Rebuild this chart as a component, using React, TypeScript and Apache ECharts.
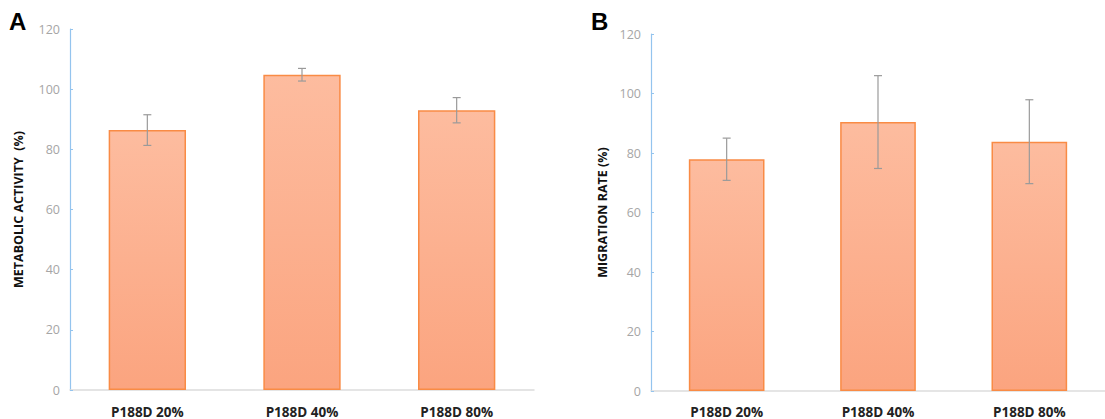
import React, { useEffect, useRef } from "react";
import * as echarts from "echarts";

const categories = ["P188D 20%", "P188D 40%", "P188D 80%"];
const metabolicActivity = [86.4, 104.8, 93.0];
const metabolicErr = [5.1, 2.1, 4.2];
const migrationRate = [77.9, 90.4, 83.8];
const migrationErr = [7.1, 15.6, 14.1];
const yTicks = [0, 20, 40, 60, 80, 100, 120];

const barFill = new echarts.graphic.LinearGradient(0, 0, 0, 1, [
  { offset: 0, color: "#FDBC9F" },
  { offset: 1, color: "#FBA47F" },
]);

function errorData(vals: number[], errs: number[]) {
  return vals.map((v, i) => [i, v - errs[i], v + errs[i]]);
}

function errorRender(params: any, api: any) {
  const i = api.value(0);
  const lo = api.coord([i, api.value(1)]);
  const hi = api.coord([i, api.value(2)]);
  const cap = 4;
  const style = { stroke: "#9a9a9a", lineWidth: 1.2 };
  return {
    type: "group",
    children: [
      { type: "line", shape: { x1: hi[0], y1: hi[1], x2: lo[0], y2: lo[1] }, style },
      { type: "line", shape: { x1: hi[0] - cap, y1: hi[1], x2: hi[0] + cap, y2: hi[1] }, style },
      { type: "line", shape: { x1: lo[0] - cap, y1: lo[1], x2: lo[0] + cap, y2: lo[1] }, style },
    ],
  };
}

export default function App() {
  const ref = useRef<HTMLDivElement>(null);
  useEffect(() => {
    document.body.style.margin = "0";
    const chart = echarts.init(ref.current!, null, { renderer: "svg" });
    const yAxisCommon = (name: string, gap: number, idx: number) => ({
      type: "value",
      gridIndex: idx,
      min: yTicks[0],
      max: yTicks[yTicks.length - 1],
      interval: 20,
      name,
      nameLocation: "middle",
      nameGap: gap,
      nameTextStyle: {
        color: "#111",
        fontWeight: "bold",
        fontSize: 12.5,
        fontFamily: "Open Sans",
      },
      axisLine: { show: true, lineStyle: { color: "#94C4EE", width: 1.2 } },
      axisTick: { show: true, inside: true, length: 3, lineStyle: { color: "#94C4EE" } },
      splitLine: { show: false },
      axisLabel: { color: "#A6A6A6", fontSize: 12.5, margin: 10, fontFamily: "Open Sans" },
    });
    const xAxisCommon = (idx: number, margin: number) => ({
      type: "category",
      gridIndex: idx,
      data: categories,
      axisLine: { show: true, lineStyle: { color: "#DCDCDC", width: 1.5 } },
      axisTick: { show: false },
      axisLabel: {
        color: "#222",
        fontWeight: "bold",
        fontSize: 13.5,
        lineHeight: 13,
        margin,
        fontFamily: "Open Sans",
      },
    });
    const barStyle = {
      color: barFill,
      borderColor: "#F98B45",
      borderWidth: 1.5,
    };
    chart.setOption({
      animation: false,
      backgroundColor: "#fff",
      grid: [
        { left: 70, top: 29, width: 464, height: 361 },
        { left: 651, top: 34, width: 462, height: 357 },
      ],
      xAxis: [xAxisCommon(0, 15), xAxisCommon(1, 14)],
      yAxis: [
        yAxisCommon("METABOLIC ACTIVITY  (%)", 45, 0),
        yAxisCommon("MIGRATION RATE (%)", 42, 1),
      ],
      graphic: [
        {
          type: "text",
          left: 9,
          top: 9,
          style: { text: "A", font: "bold 24px Liberation Sans", fill: "#000" },
        },
        {
          type: "text",
          left: 591,
          top: 9,
          style: { text: "B", font: "bold 24px Liberation Sans", fill: "#000" },
        },
      ],
      series: [
        {
          type: "bar",
          xAxisIndex: 0,
          yAxisIndex: 0,
          data: metabolicActivity,
          barWidth: "50%",
          itemStyle: barStyle,
        },
        {
          type: "custom",
          xAxisIndex: 0,
          yAxisIndex: 0,
          data: errorData(metabolicActivity, metabolicErr),
          renderItem: errorRender,
          z: 5,
        },
        {
          type: "bar",
          xAxisIndex: 1,
          yAxisIndex: 1,
          data: migrationRate,
          barWidth: "50%",
          itemStyle: barStyle,
        },
        {
          type: "custom",
          xAxisIndex: 1,
          yAxisIndex: 1,
          data: errorData(migrationRate, migrationErr),
          renderItem: errorRender,
          z: 5,
        },
      ],
    });
    return () => chart.dispose();
  }, []);
  return (
    <div
      ref={ref}
      style={{ position: "absolute", left: 0, top: 0, width: 1105, height: 419 }}
    />
  );
}
